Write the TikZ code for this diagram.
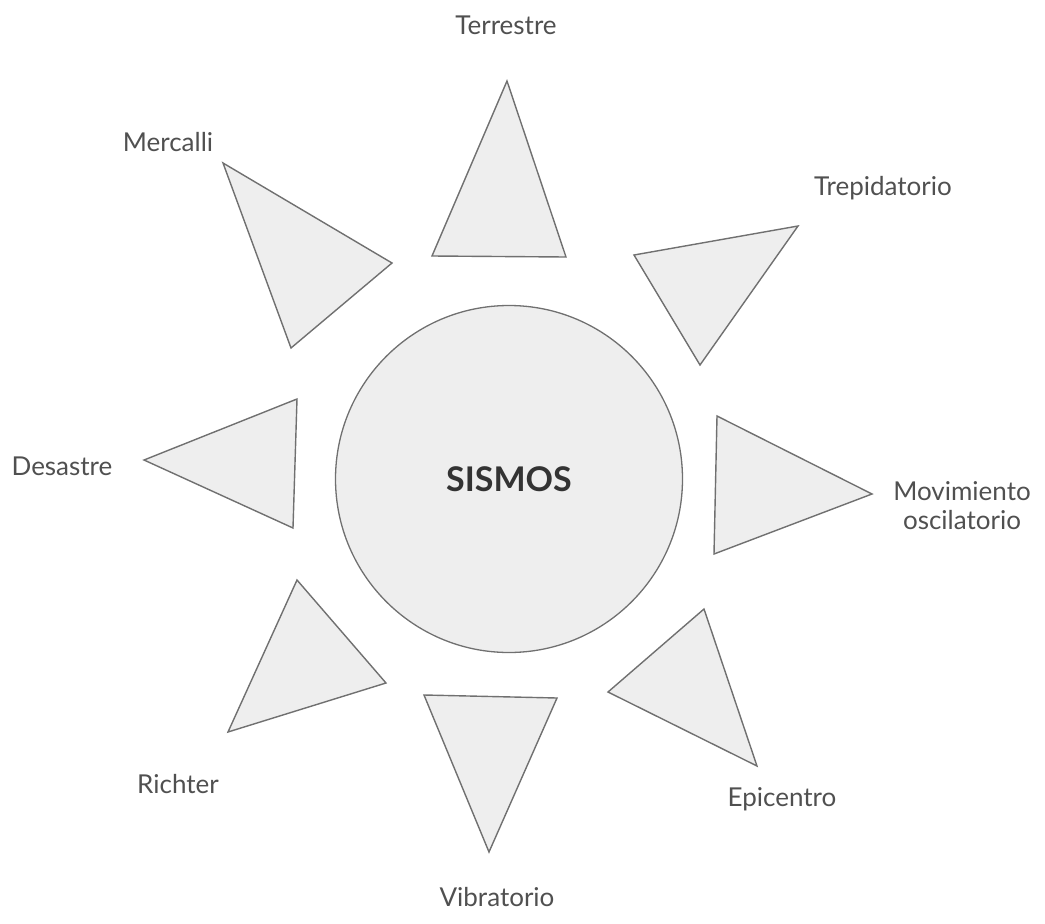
\documentclass[tikz,border=0pt]{standalone}
\usepackage{fontspec}
\setmainfont{Lato}
\definecolor{shade}{HTML}{EEEEEE}
\definecolor{edge}{HTML}{707070}
\definecolor{ink}{HTML}{505050}
\tikzset{
  tri/.style={draw=edge, fill=shade, line width=1.4pt, line join=miter},
  lbl/.style={text=ink, font=\fontsize{26}{29}\selectfont, inner sep=0pt, align=center},
}
\begin{document}
\begin{tikzpicture}[x=1pt,y=-1pt]
\useasboundingbox (0,0) rectangle (1045,924);
% centre circle
\node[circle, draw=edge, fill=shade, line width=1.3pt, minimum size=347pt, inner sep=0pt,
      text=black!80, font=\fontsize{34}{37}\selectfont\bfseries] (core) at (509,479) {SISMOS};
% Terrestre
\coordinate (t1) at (507,81); \coordinate (t2) at (432,256); \coordinate (t3) at (566,257);
\draw[tri] (t1) -- (t2) -- (t3) -- cycle;
% Trepidatorio
\coordinate (p1) at (634,255); \coordinate (p2) at (798,226); \coordinate (p3) at (700,365);
\draw[tri] (p1) -- (p2) -- (p3) -- cycle;
% Movimiento oscilatorio
\coordinate (m1) at (717,416); \coordinate (m2) at (872,494); \coordinate (m3) at (714,554);
\draw[tri] (m1) -- (m2) -- (m3) -- cycle;
% Epicentro
\coordinate (e1) at (704,609); \coordinate (e2) at (757,766); \coordinate (e3) at (608,692);
\draw[tri] (e1) -- (e2) -- (e3) -- cycle;
% Vibratorio
\coordinate (v1) at (424,695); \coordinate (v2) at (557,698); \coordinate (v3) at (489,852);
\draw[tri] (v1) -- (v2) -- (v3) -- cycle;
% Richter
\coordinate (r1) at (297,580); \coordinate (r2) at (386,683); \coordinate (r3) at (228,732);
\draw[tri] (r1) -- (r2) -- (r3) -- cycle;
% Desastre
\coordinate (d1) at (144,460); \coordinate (d2) at (297,399); \coordinate (d3) at (293,528);
\draw[tri] (d1) -- (d2) -- (d3) -- cycle;
% Mercalli
\coordinate (c1) at (223,163); \coordinate (c2) at (392,263); \coordinate (c3) at (291,348);
\draw[tri] (c1) -- (c2) -- (c3) -- cycle;
% labels
\node[lbl] (lt) at (506,25) {Terrestre};
\node[lbl] (lp) at (883,188) {Trepidatorio};
\node[lbl] (lm) at (962,506) {Movimiento\\oscilatorio};
\node[lbl] (le) at (782,799) {Epicentro};
\node[lbl] (lv) at (497,897) {Vibratorio};
\node[lbl] (lr) at (178,784) {Richter};
\node[lbl] (ld) at (62,466) {Desastre};
\node[lbl] (lc) at (168,142) {Mercalli};
\end{tikzpicture}
\end{document}
